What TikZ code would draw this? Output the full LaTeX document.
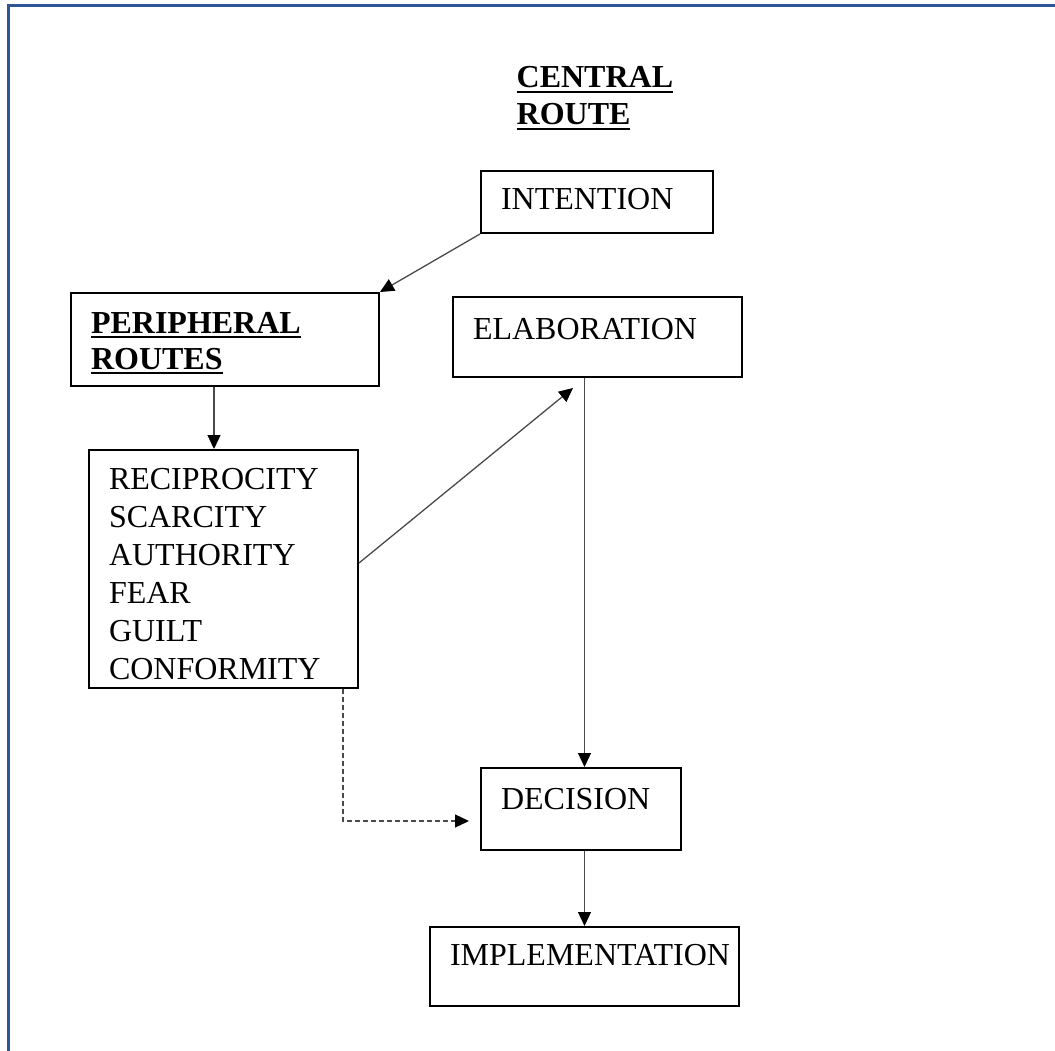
\documentclass[tikz,border=0pt]{standalone}
\usepackage{fontspec}
\setmainfont{Liberation Serif}
\usetikzlibrary{arrows.meta, calc}
\definecolor{cframe}{HTML}{2F5597}
\definecolor{cline}{HTML}{4A4A4A}
\newcommand{\uword}[1]{\leavevmode\setbox0\hbox{#1}\rlap{\rule[-5pt]{\wd0}{2pt}}\box0}
\tikzset{
  every picture/.style={font=\fontsize{32}{36}\selectfont, line width=1.3pt},
  box/.style={draw=black, line width=2pt, anchor=north west, align=left, inner xsep=20pt, inner ysep=0pt},
  arrow/.style={-{Triangle[length=14pt, width=13pt, color=black]}, draw=cline},
  dashline/.style={arrow, dash pattern=on 5pt off 3pt},
  heading/.style={font=\bfseries\fontsize{32}{37}\selectfont, align=left, anchor=north west, inner sep=0pt},
}

\begin{document}
\begin{tikzpicture}[x=1pt, y=-1pt]
  \useasboundingbox (0,0) rectangle (1055,1051);
  \draw[cframe, line width=3pt] (8,1051) -- (8,6) -- (1055,6);
  \node[heading, text height=64pt] (central) at (516,60) {\uword{CENTRAL}\\\uword{ROUTE}};
  \node[box, text width=192pt, text height=39pt, text depth=23pt] (intent) at (480,170) {INTENTION};
  \node[box, text width=268pt, text height=40pt, text depth=53pt, font=\bfseries\fontsize{32}{36}\selectfont] (peri) at (70,292) {\uword{PERIPHERAL}\\\uword{ROUTES}};
  \node[box, text width=249pt, text height=42pt, text depth=38pt] (elab) at (452,296) {ELABORATION};
  \node[box, text width=229pt, text height=39pt, text depth=199pt, font=\fontsize{32}{38}\selectfont] (cues) at (88,449) {RECIPROCITY\\SCARCITY\\AUTHORITY\\FEAR\\GUILT\\CONFORMITY};
  \node[box, text width=160pt, text height=41pt, text depth=41pt] (dec) at (480,767) {DECISION};
  \node[box, text width=269pt, text height=38pt, text depth=41pt] (impl) at (429,926) {IMPLEMENTATION};
  \coordinate (elabin) at (573,388);
  \draw[arrow] (intent.south west) -- (peri.north east);
  \draw[arrow] ([xshift=-11pt]peri.south) -- ([xshift=-11pt]peri.south |- cues.north);
  \draw[arrow] ([yshift=6pt]cues.east) -- (elabin);
  \draw[arrow] (elab.south -| impl.north) -- (dec.north -| impl.north);
  \draw[arrow] (dec.south -| impl.north) -- (impl.north);
  \draw[dashline] ([xshift=-16pt]cues.south east) |- ([xshift=-11pt, yshift=-12pt]dec.west);
\end{tikzpicture}
\end{document}
